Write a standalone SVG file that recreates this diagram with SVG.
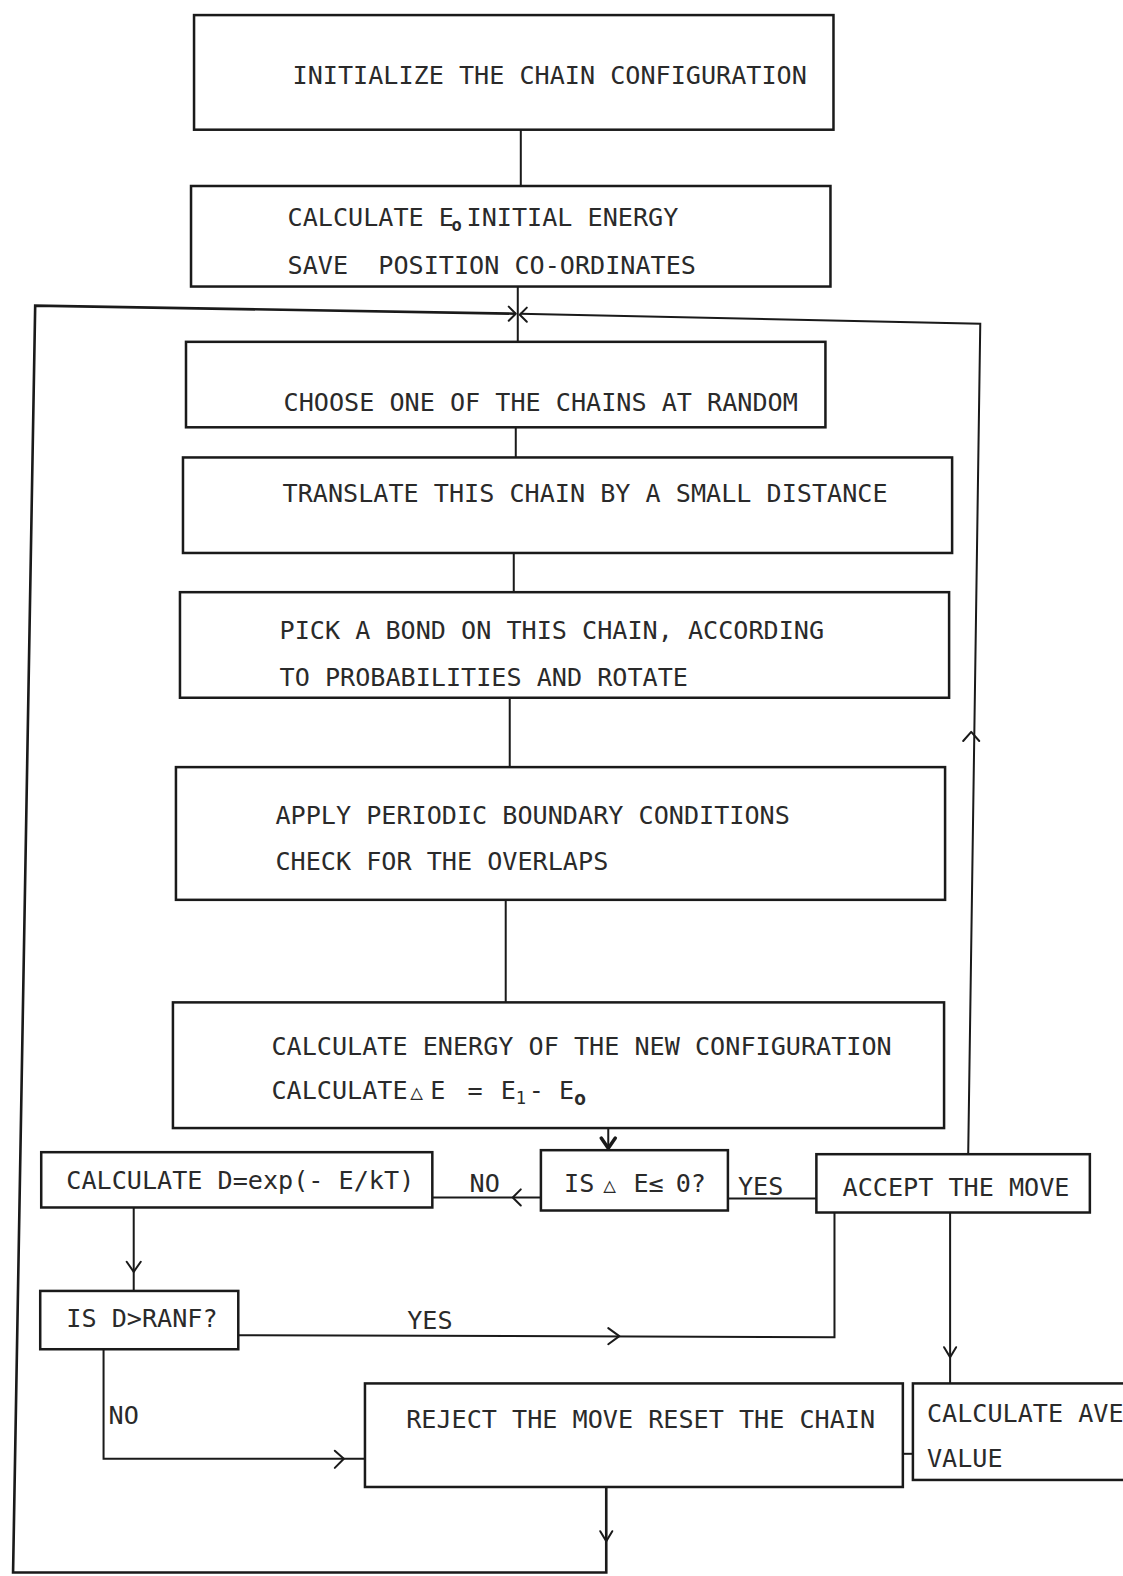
<svg xmlns="http://www.w3.org/2000/svg" width="1123" height="1576" viewBox="0 0 1123 1576">
<style>
  .box{fill:#fff;stroke:#1a1a1a;stroke-width:2.5}
  .ln{fill:none;stroke:#1a1a1a;stroke-width:2}
  .ah{fill:none;stroke:#1a1a1a;stroke-width:2;stroke-linecap:round;stroke-linejoin:round}
  .t{font-family:"DejaVu Sans Mono","Liberation Mono",monospace;font-size:25px;fill:#2a2a2a;white-space:pre}
  .s{font-size:17px}
  .tri{font-size:21px}
</style>
<rect width="1123" height="1576" fill="#fff"/>
<g transform="scale(1.0054)">
<g id="connectors">
  <path class="ln" d="M518,129 V185"/>
  <path class="ln" d="M515,285 V340"/>
  <path class="ln" d="M603,1479 V1564 H13 L35,304 L513,312" style="stroke-width:2.6"/>
  <path class="ln" d="M963,1148 L975,322 L517,312"/>
  <path class="ln" d="M513,425 V455"/>
  <path class="ln" d="M511,550 V589"/>
  <path class="ln" d="M507,694 V763"/>
  <path class="ln" d="M503,895 V997"/>
  <path class="ln" d="M605,1122 V1144"/>
  <path class="ln" d="M538,1191 H430"/>
  <path class="ln" d="M724,1192 H812"/>
  <path class="ln" d="M133,1201 V1284"/>
  <path class="ln" d="M237,1328 L830,1330 V1206"/>
  <path class="ln" d="M945,1206 V1376"/>
  <path class="ln" d="M103,1342 V1451 H363"/>
  <path class="ln" d="M898,1446 H908"/>
  <path class="ah" d="M506,305 L513,312 L506,319"/>
  <path class="ah" d="M524,306 L517,313 L524,320"/>
  <path class="ah" d="M958,737 L966,728 L974,737"/>
  <path class="ah" d="M598,1132 L605,1142 L612,1132" style="stroke-width:3.5"/>
  <path class="ah" d="M518,1183 L510,1191 L518,1199"/>
  <path class="ah" d="M126,1255 L133,1265 L140,1255"/>
  <path class="ah" d="M605,1321 L616,1329 L605,1337"/>
  <path class="ah" d="M939,1340 L945,1350 L951,1340"/>
  <path class="ah" d="M333,1443 L342,1451 L333,1460"/>
  <path class="ah" d="M597,1523 L603,1533 L609,1523"/>
</g>
<g id="n-init">
  <rect class="box" x="193" y="15" width="636" height="114"/>
  <text class="t" x="291" y="84">INITIALIZE THE CHAIN CONFIGURATION</text>
</g>
<g id="n-save">
  <rect class="box" x="190" y="185" width="636" height="100"/>
  <text class="t" x="286" y="225">CALCULATE E<tspan class="s" x="449" dy="5" style="font-weight:bold">o</tspan><tspan x="464" dy="-5">INITIAL ENERGY</tspan></text>
  <text class="t" x="286" y="273" xml:space="preserve">SAVE  POSITION CO-ORDINATES</text>
</g>
<g id="n-choose">
  <rect class="box" x="185" y="340" width="636" height="85"/>
  <text class="t" x="282" y="409">CHOOSE ONE OF THE CHAINS AT RANDOM</text>
</g>
<g id="n-translate">
  <rect class="box" x="182" y="455" width="765" height="95"/>
  <text class="t" x="281" y="499">TRANSLATE THIS CHAIN BY A SMALL DISTANCE</text>
</g>
<g id="n-pick">
  <rect class="box" x="179" y="589" width="765" height="105"/>
  <text class="t" x="278" y="636">PICK A BOND ON THIS CHAIN, ACCORDING</text>
  <text class="t" x="278" y="682">TO PROBABILITIES AND ROTATE</text>
</g>
<g id="n-apply">
  <rect class="box" x="175" y="763" width="765" height="132"/>
  <text class="t" x="274" y="820">APPLY PERIODIC BOUNDARY CONDITIONS</text>
  <text class="t" x="274" y="865">CHECK FOR THE OVERLAPS</text>
</g>
<g id="n-energy">
  <rect class="box" x="172" y="997" width="767" height="125"/>
  <text class="t" x="270" y="1049">CALCULATE ENERGY OF THE NEW CONFIGURATION</text>
  <text class="t" x="270" y="1093">CALCULATE<tspan class="tri" x="408">△</tspan><tspan x="428">E</tspan><tspan x="465">=</tspan><tspan x="498">E</tspan><tspan class="s" x="513" dy="5">1</tspan><tspan x="526" dy="-5">-</tspan><tspan x="556">E</tspan><tspan x="571" dy="6" style="font-size:20px;font-weight:bold">o</tspan></text>
</g>
<g id="n-decision">
  <rect class="box" x="538" y="1144" width="186" height="60"/>
  <text class="t" x="561" y="1186">IS<tspan class="tri" x="600">△</tspan><tspan x="630">E</tspan><tspan x="645">≤</tspan><tspan x="672">0?</tspan></text>
</g>
<g id="n-accept">
  <rect class="box" x="812" y="1148" width="272" height="58"/>
  <text class="t" x="838" y="1190">ACCEPT THE MOVE</text>
</g>
<g id="n-calcD">
  <rect class="box" x="41" y="1146" width="389" height="55"/>
  <text class="t" x="66" y="1183">CALCULATE D=exp(- E/kT)</text>
</g>
<g id="n-isD">
  <rect class="box" x="40" y="1284" width="197" height="58"/>
  <text class="t" x="66" y="1320">IS D&gt;RANF?</text>
</g>
<g id="n-reject">
  <rect class="box" x="363" y="1376" width="535" height="103"/>
  <text class="t" x="404" y="1420">REJECT THE MOVE RESET THE CHAIN</text>
</g>
<g id="n-average">
  <rect class="box" x="908" y="1376" width="260" height="96"/>
  <text class="t" x="922" y="1414">CALCULATE AVE</text>
  <text class="t" x="922" y="1459">VALUE</text>
</g>
<g id="labels">
  <text class="t" x="467" y="1186">NO</text>
  <text class="t" x="734" y="1189">YES</text>
  <text class="t" x="405" y="1322">YES</text>
  <text class="t" x="108" y="1416">NO</text>
</g>
</g>
</svg>
